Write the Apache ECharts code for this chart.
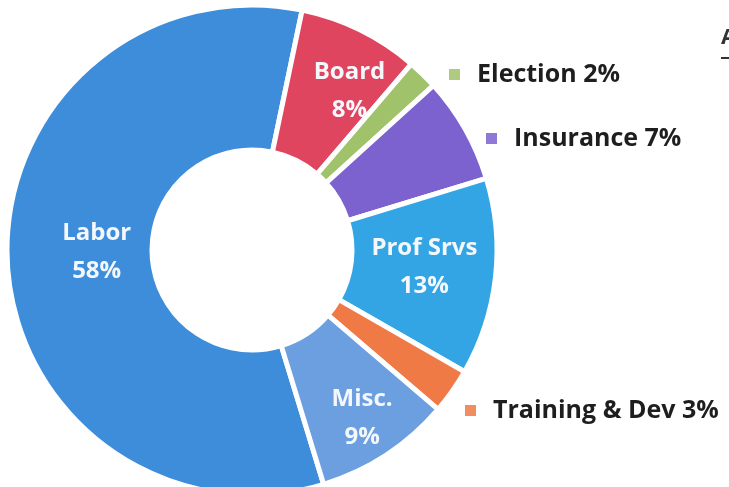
<!DOCTYPE html>
<html>
<head>
    <meta charset="utf-8">
    <script src="https://cdn.jsdelivr.net/npm/echarts@6/dist/echarts.min.js"></script>
    <style>
        html, body {margin: 0; padding: 0; background: #fff;}
    </style>
</head>
<body>
<div id="main" style="width: 729px; height: 487px"></div>
<script type="text/javascript">
    // slices in clockwise order, starting with Labor
    var categories = ['Labor', 'Board', 'Election', 'Insurance', 'Prof Srvs', 'Training & Dev', 'Misc.'];
    var shares = [58, 8, 2, 7, 13, 3, 9];
    var colors = ['#3e8ddb', '#e0455f', '#a0c26a', '#7b62cf', '#33a5e5', '#ef7a45', '#6c9fe0'];
    // these small slices are labelled outside, with a little square
    var outsideNames = ['Election', 'Insurance', 'Training & Dev'];

    // nudges for the inside labels (px)
    var labelNudge = {0: [20, -6], 1: [20, -1], 4: [-2, -2], 6: [14, 21]};

    var fontFam = '"Open Sans", Lato, sans-serif';

    var pieData = categories.map(function (name, i) {
        var inside = outsideNames.indexOf(name) < 0;
        return {
            name: name,
            value: shares[i],
            itemStyle: {color: colors[i]},
            label: {show: inside}
        };
    });

    function pctOf(name) {
        var total = shares.reduce(function (a, b) { return a + b; }, 0);
        return Math.round(shares[categories.indexOf(name)] / total * 100);
    }

    function sideLegend(name, left, top) {
        return {
            data: [name],
            left: left, top: top,
            orient: 'vertical',
            icon: 'rect',
            itemWidth: 11, itemHeight: 11,
            itemStyle: {borderWidth: 0, opacity: 0.85},
            selectedMode: false,
            formatter: function (n) { return n + ' ' + pctOf(n) + '%'; },
            textStyle: {
                fontFamily: fontFam, fontWeight: 'bold', fontSize: 25,
                color: '#1e1e1e', padding: [0, 0, 0, 12]
            }
        };
    }

    var myChart = echarts.init(document.getElementById('main'));
    var option = {
        animation: false,
        backgroundColor: '#fff',
        legend: [
            sideLegend('Election', 444, 57),
            sideLegend('Insurance', 481, 121),
            sideLegend('Training & Dev', 460, 393)
        ],
        graphic: [
            // cut-off heading at the right edge
            {type: 'text', left: 721, top: 27,
                style: {text: 'A', fontFamily: fontFam, fontWeight: 'bold', fontSize: 22, fill: '#333'}},
            {type: 'rect', left: 721, top: 57, shape: {width: 10, height: 2}, style: {fill: '#333'}}
        ],
        series: [
            {
                type: 'pie',
                center: [252, 250],
                radius: [100, 245],
                startAngle: -73,
                clockwise: true,
                data: pieData,
                itemStyle: {borderColor: '#fff', borderWidth: 5},
                label: {
                    position: 'inside',
                    formatter: function (p) { return p.name + '\n' + Math.round(p.percent) + '%'; },
                    color: '#f4f8fc',
                    fontFamily: fontFam,
                    fontWeight: 'bold',
                    fontSize: 24,
                    lineHeight: 38
                },
                labelLine: {show: false},
                labelLayout: function (params) {
                    var n = labelNudge[params.dataIndex] || [0, 0];
                    return {dx: n[0], dy: n[1]};
                },
                emphasis: {disabled: true}
            }
        ]
    };
    myChart.setOption(option);
</script>
</body>
</html>
